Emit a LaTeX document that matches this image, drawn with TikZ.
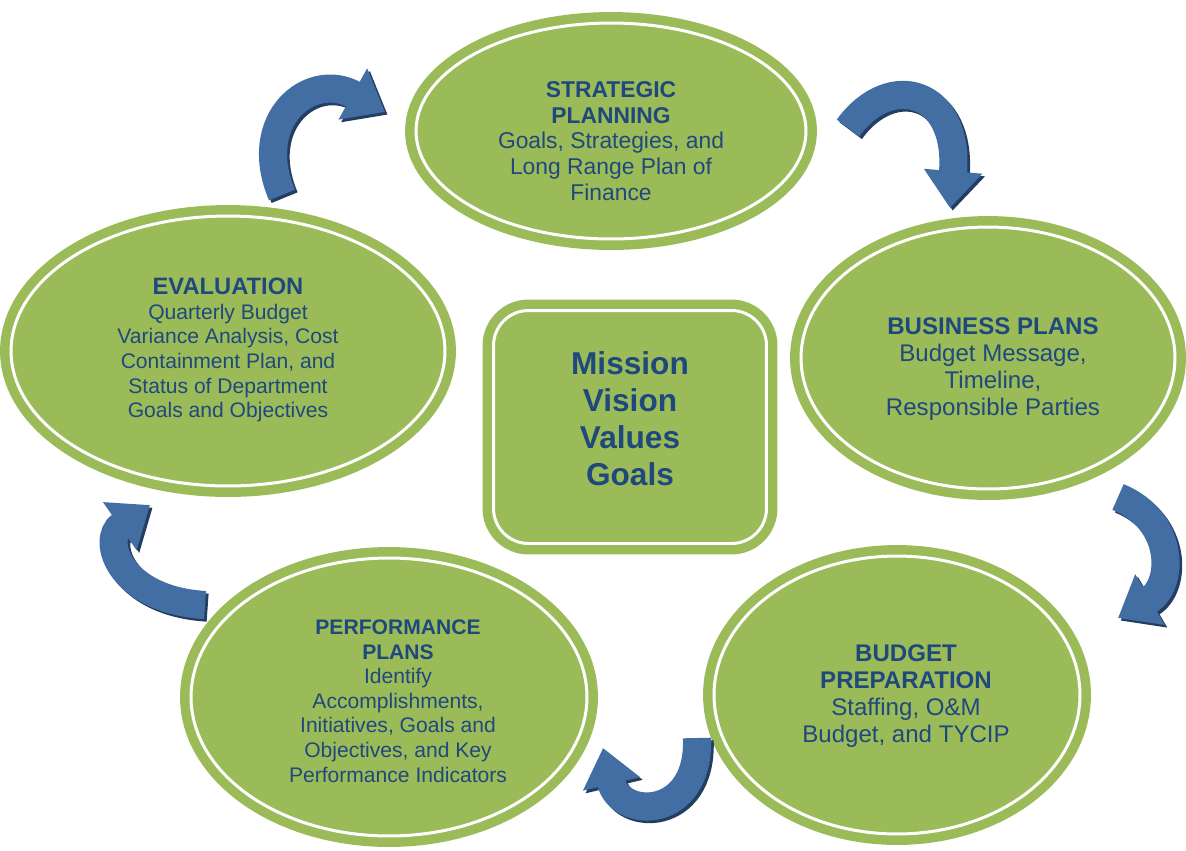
\documentclass[tikz,border=0pt]{standalone}
\usepackage{fontspec}
\setmainfont{Liberation Sans}
\usetikzlibrary{shapes.geometric, arrows.meta, positioning}
\definecolor{phasegreen}{RGB}{155,187,89}
\definecolor{textblue}{RGB}{31,73,125}
\definecolor{arrowblue}{RGB}{66,110,163}
\definecolor{arrowshade}{RGB}{36,62,98}
\tikzstyle{phase} = [ellipse, inner sep=0pt, fill=phasegreen, draw=white, line width=1.7pt, preaction={draw=phasegreen, line width=12.5pt}]
\tikzstyle{core} = [rectangle, rounded corners=0.7cm, inner sep=0pt, fill=phasegreen, draw=white, line width=1.7pt, preaction={draw=phasegreen, line width=12.5pt}, minimum width=5.46cm, minimum height=4.66cm]
\tikzstyle{phasetext} = [text=textblue, align=center, font=\fontsize{13}{14.7}\selectfont]
\tikzstyle{bigtext} = [phasetext, font=\fontsize{13.7}{15.5}\selectfont]
\tikzstyle{smalltext} = [phasetext, font=\fontsize{12}{14}\selectfont]
\tikzstyle{coretext} = [text=textblue, align=center, font=\fontsize{18}{21}\selectfont\bfseries]
\tikzstyle{turn} = [line width=16pt, draw=arrowblue, -{Triangle[width=32pt,length=21pt]}]
\tikzstyle{turnshade} = [turn, draw=arrowshade, transform canvas={shift={(1.5pt,-1.5pt)}}]

\begin{document}
\begin{tikzpicture}[x=0.02cm, y=-0.02cm]
\useasboundingbox (0,0) rectangle (1186,850);

% Phases
\node (plan) [phase, minimum width=7.8cm, minimum height=4.32cm] at (611,131) {};
\node (biz) [phase, minimum width=7.48cm, minimum height=5.24cm] at (988,358) {};
\node (prep) [phase, minimum width=7.32cm, minimum height=5.56cm] at (897,695) {};
\node (perf) [phase, minimum width=7.92cm, minimum height=5.56cm] at (389,697) {};
\node (eval) [phase, minimum width=8.68cm, minimum height=5.4cm] at (228,351) {};

% Centre
\node (core) [core] at (630,427) {};
\node (coretxt) [coretext] at (630,419) {Mission\\Vision\\Values\\Goals};

% Phase texts
\node (plantext) [phasetext] at (611,141) {\textbf{STRATEGIC}\\\textbf{PLANNING}\\Goals, Strategies, and\\Long Range Plan of\\Finance};
\node (biztext) [bigtext] at (993,369) {\textbf{BUSINESS PLANS}\\Budget Message,\\Timeline,\\Responsible Parties};
\node (preptext) [bigtext] at (906,696) {\textbf{BUDGET}\\\textbf{PREPARATION}\\Staffing, O\&M\\Budget, and TYCIP};
\node (perftext) [smalltext] at (398,701) {\textbf{PERFORMANCE}\\\textbf{PLANS}\\Identify\\Accomplishments,\\Initiatives, Goals and\\Objectives, and Key\\Performance Indicators};
\node (evaltext) [smalltext] at (228,350) {{\fontsize{13.5}{14}\selectfont\textbf{EVALUATION}}\\Quarterly Budget\\Variance Analysis, Cost\\Containment Plan, and\\Status of Department\\Goals and Objectives};

% Arrows
\coordinate (t1) at (282,195); \coordinate (h1) at (385,112);
\coordinate (t2) at (848,128); \coordinate (h2) at (950,208);
\coordinate (t3) at (1118,497); \coordinate (h3) at (1118,618);
\coordinate (t4) at (697,738); \coordinate (h4) at (603,748);
\coordinate (t5) at (205,605); \coordinate (h5) at (150,505);

\draw [turnshade] (t1) .. controls (250,120) and (310,70) .. (h1);
\draw [turn] (t1) .. controls (250,120) and (310,70) .. (h1);
\draw [turnshade] (t2) .. controls (890,70) and (960,90) .. (h2);
\draw [turn] (t2) .. controls (890,70) and (960,90) .. (h2);
\draw [turnshade] (t3) .. controls (1175,520) and (1175,585) .. (h3);
\draw [turn] (t3) .. controls (1175,520) and (1175,585) .. (h3);
\draw [turnshade] (t4) .. controls (700,820) and (620,820) .. (h4);
\draw [turn] (t4) .. controls (700,820) and (620,820) .. (h4);
\draw [turnshade] (t5) .. controls (120,600) and (100,540) .. (h5);
\draw [turn] (t5) .. controls (120,600) and (100,540) .. (h5);

\end{tikzpicture}
\end{document}
